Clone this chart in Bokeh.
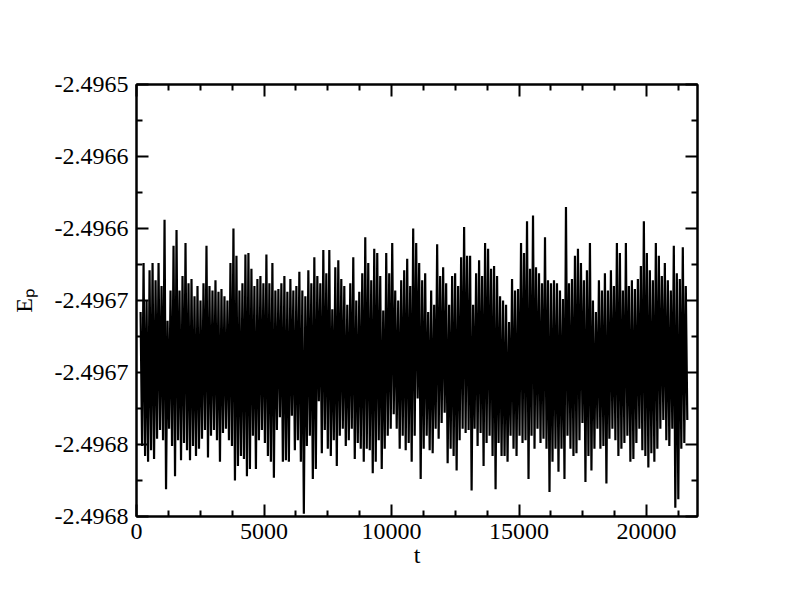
import numpy as np
from bokeh.plotting import figure
from bokeh.models import Range1d, FixedTicker, LinearAxis, CustomJSTickFormatter
from bokeh.embed import file_html
from bokeh.resources import INLINE

# ---------------- data ----------------
t_start, t_end = 160, 21600

# successive local maxima of Ep (one per ~3 px column of the original)
ep_high = [
    -2.496658, -2.496624, -2.496650, -2.496629, -2.496624, -2.496636, -2.496624, -2.496640, -2.496594, -2.496664,
    -2.496643, -2.496612, -2.496601, -2.496643, -2.496633, -2.496610, -2.496638, -2.496635, -2.496647, -2.496640,
    -2.496650, -2.496638, -2.496612, -2.496640, -2.496643, -2.496636, -2.496644, -2.496642, -2.496647, -2.496650,
    -2.496624, -2.496600, -2.496619, -2.496643, -2.496638, -2.496618,
    -2.496617, -2.496628, -2.496640, -2.496635, -2.496633, -2.496638, -2.496618, -2.496638, -2.496624, -2.496643,
    -2.496642, -2.496638, -2.496633, -2.496644, -2.496635, -2.496643, -2.496640, -2.496630, -2.496643, -2.496647,
    -2.496629, -2.496638, -2.496620, -2.496633, -2.496638, -2.496615, -2.496631, -2.496615, -2.496656, -2.496627,
    -2.496622, -2.496635, -2.496640, -2.496653, -2.496638, -2.496620, -2.496650,
    -2.496644, -2.496631, -2.496606, -2.496624, -2.496636, -2.496614, -2.496617, -2.496633, -2.496657, -2.496617,
    -2.496631, -2.496610, -2.496643, -2.496650, -2.496636, -2.496629, -2.496621, -2.496640, -2.496600, -2.496610,
    -2.496624, -2.496636, -2.496631, -2.496658, -2.496643, -2.496653, -2.496611, -2.496633, -2.496627, -2.496638,
    -2.496653, -2.496633, -2.496631, -2.496640, -2.496620, -2.496599, -2.496619,
    -2.496619, -2.496653, -2.496631, -2.496622, -2.496633, -2.496610, -2.496614, -2.496628, -2.496626, -2.496633,
    -2.496647, -2.496650, -2.496653, -2.496665, -2.496635, -2.496643, -2.496642, -2.496610, -2.496617, -2.496595,
    -2.496628, -2.496591, -2.496627, -2.496631, -2.496638, -2.496606, -2.496636, -2.496638, -2.496636, -2.496638,
    -2.496643, -2.496649, -2.496585, -2.496638, -2.496635, -2.496619,
    -2.496614, -2.496624, -2.496636, -2.496629, -2.496610, -2.496650, -2.496658, -2.496636, -2.496643, -2.496631,
    -2.496643, -2.496629, -2.496640, -2.496610, -2.496617, -2.496643, -2.496610, -2.496640, -2.496636, -2.496642,
    -2.496635, -2.496626, -2.496595, -2.496617, -2.496629, -2.496636, -2.496610, -2.496619, -2.496633, -2.496624,
    -2.496636, -2.496643, -2.496612, -2.496631, -2.496635, -2.496613, -2.496640,
]

# successive local minima of Ep
ep_low = [
    -2.496751, -2.496758, -2.496762, -2.496754, -2.496760, -2.496746, -2.496740, -2.496747, -2.496781, -2.496739,
    -2.496751, -2.496772, -2.496747, -2.496761, -2.496749, -2.496754, -2.496761, -2.496751, -2.496758, -2.496753,
    -2.496746, -2.496740, -2.496759, -2.496744, -2.496740, -2.496747, -2.496762, -2.496742, -2.496739, -2.496747,
    -2.496751, -2.496775, -2.496765, -2.496758, -2.496760, -2.496772,
    -2.496767, -2.496744, -2.496767, -2.496747, -2.496740, -2.496749, -2.496758, -2.496762, -2.496773, -2.496740,
    -2.496731, -2.496762, -2.496761, -2.496762, -2.496730, -2.496754, -2.496747, -2.496762, -2.496798, -2.496751,
    -2.496744, -2.496774, -2.496767, -2.496720, -2.496756, -2.496740, -2.496753, -2.496758, -2.496747, -2.496765,
    -2.496744, -2.496739, -2.496751, -2.496747, -2.496739, -2.496760, -2.496749,
    -2.496753, -2.496762, -2.496753, -2.496754, -2.496770, -2.496762, -2.496747, -2.496767, -2.496753, -2.496744,
    -2.496739, -2.496729, -2.496739, -2.496753, -2.496744, -2.496754, -2.496749, -2.496762, -2.496744, -2.496718,
    -2.496774, -2.496753, -2.496744, -2.496754, -2.496756, -2.496739, -2.496746, -2.496735, -2.496728, -2.496763,
    -2.496753, -2.496758, -2.496768, -2.496747, -2.496739, -2.496742, -2.496740,
    -2.496782, -2.496739, -2.496751, -2.496742, -2.496765, -2.496749, -2.496744, -2.496758, -2.496781, -2.496749,
    -2.496758, -2.496758, -2.496762, -2.496744, -2.496753, -2.496758, -2.496744, -2.496749, -2.496747, -2.496774,
    -2.496744, -2.496753, -2.496739, -2.496749, -2.496746, -2.496753, -2.496783, -2.496762, -2.496753, -2.496769,
    -2.496753, -2.496774, -2.496744, -2.496753, -2.496758, -2.496756,
    -2.496747, -2.496735, -2.496776, -2.496758, -2.496768, -2.496753, -2.496739, -2.496753, -2.496751, -2.496777,
    -2.496746, -2.496739, -2.496747, -2.496758, -2.496753, -2.496749, -2.496744, -2.496762, -2.496760, -2.496749,
    -2.496739, -2.496754, -2.496758, -2.496766, -2.496756, -2.496762, -2.496753, -2.496739, -2.496733, -2.496747,
    -2.496751, -2.496739, -2.496794, -2.496788, -2.496753, -2.496749, -2.496733,
]

x_major_ticks = [0, 5000, 10000, 15000, 20000]
x_minor_ticks = [1250, 2500, 3750, 6250, 7500, 8750, 11250, 12500, 13750,
                 16250, 17500, 18750, 21250]
y_major_ticks = [-2.4968, -2.49675, -2.4967, -2.49665, -2.4966, -2.49655, -2.4965]
y_tick_labels = ["-2.4968", "-2.4968", "-2.4967", "-2.4967", "-2.4966", "-2.4966", "-2.4965"]
y_minor_ticks = [-2.496775, -2.496725, -2.496675, -2.496625, -2.496575, -2.496525]

x_label = "t"
y_label = "E\u209a"   # E with subscript p

# ---------------- build series ----------------
n = min(len(ep_high), len(ep_low))
ep = np.empty(2 * n)
ep[0::2] = ep_high[:n]
ep[1::2] = ep_low[:n]
t = np.linspace(t_start, t_end, 2 * n)

FONT = "Liberation Serif"
TICK_FS = "24px"

p = figure(frame_width=561, frame_height=432,
           min_border_left=136, min_border_right=87,
           min_border_top=84, min_border_bottom=83,
           x_range=Range1d(0, 22000), y_range=Range1d(-2.4968, -2.4965),
           output_backend="svg", toolbar_location=None,
           x_axis_location=None, y_axis_location=None)
p.xgrid.visible = False
p.ygrid.visible = False
p.outline_line_color = "black"
p.outline_line_width = 2
p.background_fill_color = "white"
p.border_fill_color = "white"

p.line(t, ep, line_color="black", line_width=2.2)

xt = FixedTicker(ticks=x_major_ticks, minor_ticks=x_minor_ticks)
yt = FixedTicker(ticks=y_major_ticks, minor_ticks=y_minor_ticks)
yfmt = CustomJSTickFormatter(args=dict(vals=y_major_ticks, labs=y_tick_labels), code="""
let best = 0, bd = Infinity;
for (let i = 0; i < vals.length; i++) { const d = Math.abs(vals[i] - tick); if (d < bd) { bd = d; best = i; } }
return labs[best];
""")


def style(ax, show_labels):
    ax.axis_line_color = "black"
    ax.axis_line_width = 2
    ax.major_tick_in = 12
    ax.major_tick_out = 0
    ax.minor_tick_in = 6
    ax.minor_tick_out = 0
    ax.major_tick_line_width = 2
    ax.minor_tick_line_width = 2
    ax.major_tick_line_color = "black"
    ax.minor_tick_line_color = "black"
    ax.major_label_text_font = FONT
    ax.major_label_text_color = "black"
    ax.axis_label_text_font = FONT
    ax.axis_label_text_font_style = "normal"
    ax.axis_label_text_color = "black"
    if show_labels:
        ax.major_label_text_font_size = TICK_FS
    else:
        ax.major_label_text_font_size = "0px"
        ax.major_label_text_color = None


xb = LinearAxis(ticker=xt)
style(xb, True)
xb.major_label_standoff = 7
xb.axis_label = x_label
xb.axis_label_text_font_size = TICK_FS
xb.axis_label_standoff = 0
p.add_layout(xb, "below")

xa = LinearAxis(ticker=xt)
style(xa, False)
p.add_layout(xa, "above")

yl = LinearAxis(ticker=yt, formatter=yfmt)
style(yl, True)
yl.major_label_standoff = 8
yl.axis_label = y_label
yl.axis_label_text_font_size = TICK_FS
yl.axis_label_standoff = 15
p.add_layout(yl, "left")

yr = LinearAxis(ticker=yt, formatter=yfmt)
style(yr, False)
p.add_layout(yr, "right")

open("out.html", "w").write(file_html(p, INLINE))
